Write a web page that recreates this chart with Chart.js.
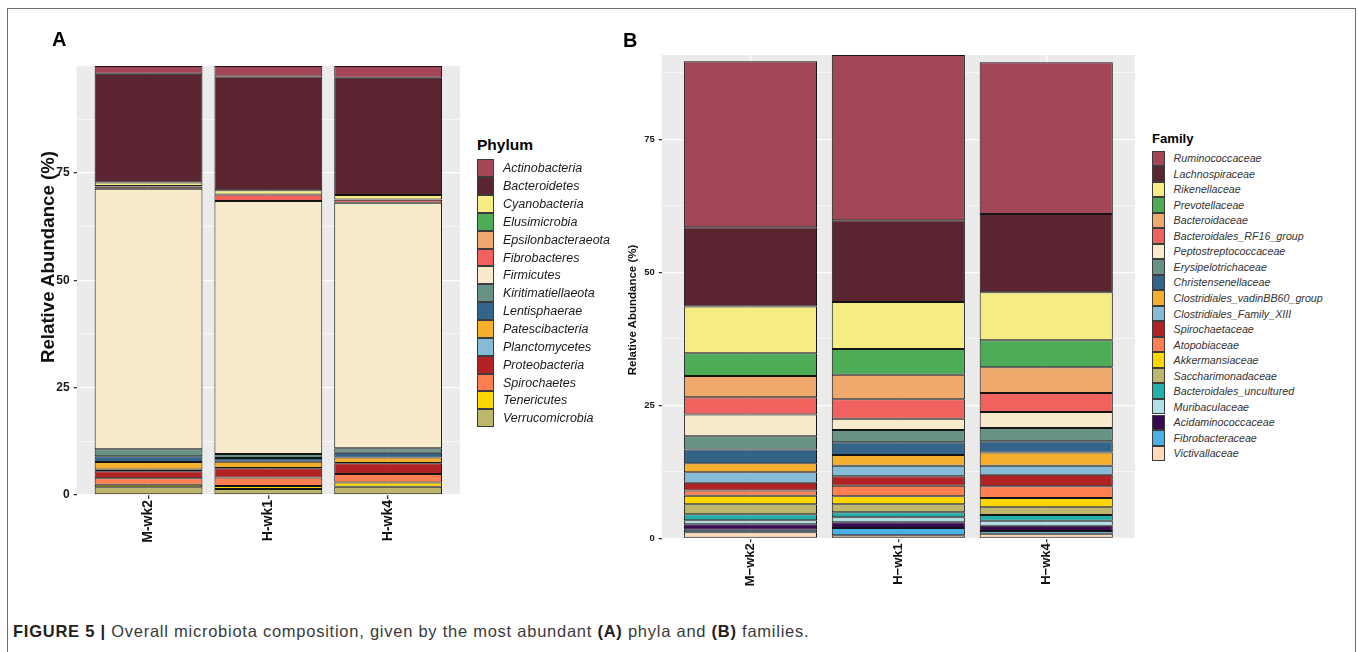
<!DOCTYPE html>
<html>
<head>
<meta charset="utf-8">
<script src="https://cdn.jsdelivr.net/npm/chart.js@4.4.1/dist/chart.umd.min.js"></script>
<style>
  body { margin: 0; background: #fff; font-family: "Liberation Sans", Arial, sans-serif; }
  #fig { position: relative; width: 1358px; height: 652px; overflow: hidden; background: #fff; }
  #frame { position: absolute; left: 7px; top: 8px; width: 1349px; height: 700px; border: 1.5px solid #707070; box-sizing: border-box; }
  canvas { position: absolute; top: 0; }
  .plab { position: absolute; font-weight: bold; font-size: 20px; line-height: 1; color: #000; }
  .ytitle { position: absolute; font-weight: bold; line-height: 1; color: #111; white-space: nowrap;
            transform: translate(-50%, -50%) rotate(-90deg); }
  .legend { position: absolute; }
  .legend .ttl { position: absolute; left: 0; font-weight: bold; line-height: 1; white-space: nowrap; color: #000; }
  .legend .row { position: absolute; left: 0; display: flex; align-items: center; white-space: nowrap; }
  .legend .key { box-sizing: border-box; border: 1px solid #3c3c3c; height: 100%; }
  .legend .lbl { font-style: italic; }
  #caption { position: absolute; left: 13px; top: 623px; font-size: 16.5px; line-height: 1; letter-spacing: 0.75px; color: #3a3a3a; white-space: nowrap; }
  #caption b { color: #231f20; }
</style>
</head>
<body>
<div id="fig">
  <div id="frame"></div>
  <canvas id="chartA" width="470" height="560" style="left:0px"></canvas>
  <canvas id="chartB" width="545" height="600" style="left:600px"></canvas>
  <div class="plab" style="left:52px; top:29px;">A</div>
  <div class="plab" style="left:623px; top:30px;">B</div>
  <div class="ytitle" style="left:48.3px; top:257px; font-size:18.7px;">Relative Abundance (%)</div>
  <div class="ytitle" style="left:633.3px; top:310px; font-size:11.5px;">Relative Abundance (%)</div>
  <div class="legend" id="legA" style="left:477px; top:0px;"></div>
  <div class="legend" id="legB" style="left:1152px; top:0px;"></div>
  <div id="caption"><b>FIGURE 5 |</b> Overall microbiota composition, given by the most abundant <b>(A)</b> phyla and <b>(B)</b> families.</div>
</div>
<script>
// samples (x axis)
const samples = ['M-wk2', 'H-wk1', 'H-wk4'];

// panel A - phyla, top of stack first
const phyla = ['Actinobacteria', 'Bacteroidetes', 'Cyanobacteria', 'Elusimicrobia', 'Epsilonbacteraeota',
  'Fibrobacteres', 'Firmicutes', 'Kiritimatiellaeota', 'Lentisphaerae', 'Patescibacteria',
  'Planctomycetes', 'Proteobacteria', 'Spirochaetes', 'Tenericutes', 'Verrucomicrobia'];
const phylaMwk2 = [1.8, 25.3, 0.86, 0.05, 0.05, 0.5, 60.67, 1.64, 1.32, 1.79, 0.39, 1.63, 1.48, 0.62, 1.79];
const phylaHwk1 = [2.45, 26.45, 1.0, 0.02, 0.02, 1.5, 58.9, 0.93, 0.86, 1.48, 0.05, 2.18, 1.95, 0.7, 1.4];
const phylaHwk4 = [2.75, 27.3, 1.06, 0.01, 0.01, 0.7, 57.2, 1.02, 1.09, 1.32, 0.05, 2.5, 2.0, 0.94, 1.95];

// panel B - families, top of stack first
const families = ['Ruminococcaceae', 'Lachnospiraceae', 'Rikenellaceae', 'Prevotellaceae', 'Bacteroidaceae',
  'Bacteroidales_RF16_group', 'Peptostreptococcaceae', 'Erysipelotrichaceae', 'Christensenellaceae',
  'Clostridiales_vadinBB60_group', 'Clostridiales_Family_XIII', 'Spirochaetaceae', 'Atopobiaceae',
  'Akkermansiaceae', 'Saccharimonadaceae', 'Bacteroidales_uncultured', 'Muribaculaceae',
  'Acidaminococcaceae', 'Fibrobacteraceae', 'Victivallaceae'];
const famMwk2 = [31.2, 14.9, 8.77, 4.27, 4.0, 3.26, 4.07, 2.5, 2.58, 1.69, 2.0, 1.43, 1.0, 1.6, 1.88, 1.13, 0.75, 1.01, 0.49, 1.13];
const famHwk1 = [31.08, 15.35, 8.84, 4.83, 4.62, 3.65, 2.12, 2.32, 2.38, 2.01, 2.0, 1.76, 2.0, 1.5, 1.5, 0.94, 0.95, 1.06, 1.38, 0.56];
const famHwk4 = [28.51, 14.72, 9.02, 5.08, 4.83, 3.57, 3.01, 2.5, 2.08, 2.5, 1.7, 2.18, 2.2, 1.74, 1.45, 1.07, 0.94, 1.0, 0.5, 0.87];

const palette = ['#A34657', '#5A2530', '#F6EC84', '#4DAD57', '#F0A96D', '#F0625D', '#F7EBCC', '#679286',
  '#33658A', '#F6AE2D', '#86BBD8', '#B22222', '#FF7F50', '#FFD700', '#BDB76B', '#20B2AA',
  '#B0E0E6', '#3A0751', '#4AB1E6', '#FFDAB9'];

const panelBg = {
  id: 'panelBg',
  beforeDraw(chart) {
    const a = chart.chartArea, c = chart.ctx;
    c.save();
    c.fillStyle = '#ebebeb';
    c.fillRect(a.left, a.top, a.right - a.left, a.bottom - a.top);
    c.restore();
  }
};

function buildSets(names, cols) {
  const sets = [];
  // ggplot puts the first level on top, chart.js stacks dataset 0 at the bottom
  for (let i = names.length - 1; i >= 0; i--) {
    sets.push({
      label: names[i],
      data: cols.map((c, j) => ({ x: j + 1, y: c[i] })),
      backgroundColor: palette[i],
      borderColor: '#141414',
      borderWidth: 1,
      borderSkipped: false,
      barPercentage: 0.9,
      categoryPercentage: 1
    });
  }
  return sets;
}

function isMajor(v) { return Math.abs(v % 25) < 1e-6; }

function makeChart(id, names, cols, cfg) {
  const totals = cols.map(c => c.reduce((a, b) => a + b, 0));
  return new Chart(document.getElementById(id), {
    type: 'bar',
    data: { datasets: buildSets(names, cols) },
    plugins: [panelBg],
    options: {
      responsive: false,
      animation: false,
      layout: { padding: { top: cfg.top, right: cfg.right, left: 0, bottom: 0 } },
      plugins: { legend: { display: false }, tooltip: { enabled: false } },
      scales: {
        x: {
          type: 'linear', min: 0.4, max: 3.6, stacked: true, offset: false,
          afterBuildTicks: s => { s.ticks = samples.map((_, j) => ({ value: j + 1 })); },
          afterFit: s => { s.height = cfg.xh; },
          border: { display: false },
          grid: { offset: false, color: '#ffffff', lineWidth: 1.3, tickColor: '#333', tickLength: 4 },
          ticks: {
            minRotation: 90, maxRotation: 90, autoSkip: false, padding: 1, color: '#111',
            font: { family: 'Liberation Sans', weight: 'bold', size: cfg.xfont },
            callback: v => cfg.minus ? samples[v - 1].replace('-', '\u2212') : samples[v - 1]
          }
        },
        y: {
          min: 0, max: Math.max(...totals), stacked: true,
          afterBuildTicks: s => {
            const t = [];
            for (let v = 0; v <= s.max + 1e-9; v += 12.5) t.push({ value: v });
            s.ticks = t;
          },
          afterFit: s => { s.width = cfg.yw; },
          border: { display: false },
          grid: {
            color: '#ffffff',
            lineWidth: ctx => (ctx.tick && isMajor(ctx.tick.value)) ? 1.3 : 0.6,
            tickColor: ctx => (ctx.tick && isMajor(ctx.tick.value)) ? '#333' : 'rgba(0,0,0,0)',
            tickLength: 3
          },
          ticks: {
            padding: 4, color: '#1a1a1a',
            font: { family: 'Liberation Sans', weight: 'bold', size: cfg.yfont },
            callback: v => isMajor(v) ? v : ''
          }
        }
      }
    }
  });
}

makeChart('chartA', phyla, [phylaMwk2, phylaHwk1, phylaHwk4],
  { top: 66, right: 10, xh: 65, yw: 76.7, xfont: 14, yfont: 12, minus: false });
makeChart('chartB', families, [famMwk2, famHwk1, famHwk4],
  { top: 55, right: 10, xh: 61.7, yw: 61.7, xfont: 13, yfont: 9.5, minus: true });

function buildLegend(el, title, names, cfg) {
  let html = '<div class="ttl" style="top:' + cfg.titleTop + 'px; font-size:' + cfg.titleSize + 'px;">' + title + '</div>';
  names.forEach((n, i) => {
    html += '<div class="row" style="top:' + (cfg.rowTop + i * cfg.rowH) + 'px; height:' + cfg.rowH + 'px;">' +
      '<div class="key" style="width:' + cfg.keyW + 'px; background:' + palette[i] + ';"></div>' +
      '<div class="lbl" style="margin-left:' + cfg.gap + 'px; font-size:' + cfg.fontSize + 'px; color:' + cfg.color + ';">' + n + '</div></div>';
  });
  document.getElementById(el).innerHTML = html;
}

buildLegend('legA', 'Phylum', phyla, { titleTop: 137.3, titleSize: 15.5, rowTop: 159.3, rowH: 17.86, keyW: 17, gap: 9, fontSize: 12.5, color: '#1a1a1a' });
buildLegend('legB', 'Family', families, { titleTop: 131.9, titleSize: 13.1, rowTop: 150.5, rowH: 15.53, keyW: 12.6, gap: 9, fontSize: 10.7, color: '#333' });
</script>
</body>
</html>
